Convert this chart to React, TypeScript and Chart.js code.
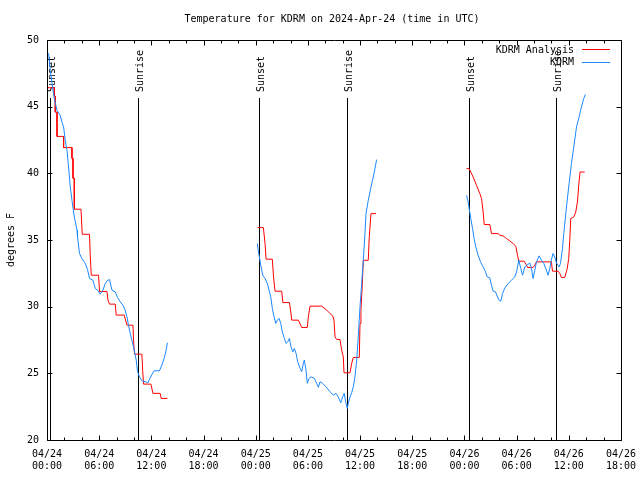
import React, { useEffect, useRef } from "react";
import { Chart, registerables } from "chart.js";

Chart.register(...registerables);

// Hours since 2024-04-24 00:00 UTC; null marks a gap between segments
const analysisHours = [
  0.11, 0.84, 0.84, 0.95, 0.95, 1.15, 1.15, 1.91, 1.91, 2.87, 2.87, 2.99, 2.99, 3.14, 3.14, 3.91, 4.05, 4.89, 4.97, 5.09, 5.93, 6.04, 6.89, 7.01, 7.19, 7.85, 7.96, 8.88, 9.19, 9.88, 9.95, 10.06, 10.91, 11.0, 11.1, 11.95, 12.18, 13.01, 13.13, 13.85,
  null,
  24.19, 24.88, 25.07, 25.19, 25.91, 26.03, 26.22, 26.99, 27.12, 27.87, 28.03, 28.14, 28.9, 29.29, 29.93, 30.05, 30.24, 31.59, 32.16, 32.54, 32.85, 33.0, 33.12, 33.31, 33.69, 33.88, 34.07, 34.15, 34.84, 35.03, 35.22, 35.91, 35.99, 36.1, 36.25, 36.37, 36.94, 37.05, 37.25, 37.82,
  null,
  48.24, 48.54, 49.0, 49.39, 49.77, 49.97, 50.15, 50.27, 50.92, 51.11, 51.87, 52.07, 52.45, 52.84, 53.22, 53.6, 53.91, 54.1, 54.25, 54.86, 55.13, 55.25, 55.89, 56.09, 56.28, 58.0, 58.12, 58.76, 58.96, 59.15, 59.53, 59.8, 59.99, 60.11, 60.22, 60.57, 60.8, 60.99, 61.14, 61.29, 61.83,
];
const analysisTemps = [
  46.42, 46.42, 45.79, 45.79, 44.59, 44.59, 42.77, 42.77, 41.93, 41.93, 41.12, 41.12, 39.63, 39.63, 37.31, 37.31, 35.43, 35.43, 33.86, 32.36, 32.36, 31.14, 31.14, 30.49, 30.19, 30.19, 29.37, 29.37, 28.61, 28.61, 27.49, 26.44, 26.44, 25.24, 24.19, 24.19, 23.5, 23.5, 23.12, 23.12,
  null,
  35.93, 35.93, 34.73, 33.56, 33.56, 32.36, 31.16, 31.16, 30.31, 30.31, 29.61, 28.99, 28.99, 28.44, 28.44, 29.24, 30.04, 30.04, 29.74, 29.49, 29.31, 28.99, 27.74, 27.54, 27.54, 26.74, 26.24, 25.04, 25.04, 25.74, 26.19, 26.19, 28.74, 29.74, 31.61, 33.48, 33.48, 35.18, 36.98, 36.98,
  null,
  40.35, 40.35, 39.72, 39.1, 38.48, 38.1, 37.1, 36.16, 36.16, 35.48, 35.48, 35.36, 35.3, 35.11, 34.93, 34.73, 34.53, 33.86, 33.41, 33.41, 33.11, 32.94, 32.94, 33.11, 33.36, 33.36, 32.66, 32.66, 32.49, 32.19, 32.19, 32.81, 33.61, 34.98, 36.61, 36.73, 37.1, 37.85, 39.1, 40.1, 40.1,
];

const obsHours = [
  0.18, 0.38, 0.64, 0.84, 1.15, 1.53, 1.72, 1.91, 2.1, 2.3, 2.48, 2.68, 2.87, 3.14, 3.45, 3.51, 3.74, 4.02, 4.4, 4.66, 4.89, 5.28, 5.55, 5.81, 6.12, 6.43, 6.7, 6.89, 7.19, 7.47, 7.85, 8.11, 8.42, 8.73, 8.99, 9.19, 9.37, 9.57, 9.76, 10.03, 10.26, 10.41, 10.64, 10.91, 11.29, 11.6, 11.79, 12.06, 12.32, 12.93, 13.21, 13.47, 13.7, 13.85,
  null,
  24.19, 24.31, 24.42, 24.58, 24.81, 25.07, 25.34, 25.53, 25.73, 25.91, 26.11, 26.3, 26.49, 26.68, 26.88, 27.06, 27.29, 27.49, 27.68, 27.87, 28.06, 28.26, 28.44, 28.64, 28.83, 29.1, 29.29, 29.47, 29.59, 29.78, 29.93, 30.13, 30.36, 30.74, 31.01, 31.2, 31.39, 31.7, 32.08, 32.54, 32.92, 33.23, 33.49, 33.77, 34.0, 34.18, 34.34, 34.53, 34.64, 34.84, 35.03, 35.22, 35.41, 35.61, 35.79, 35.99, 36.18, 36.37, 36.56, 36.68, 36.94, 37.25, 37.51, 37.71, 37.9,
  null,
  48.24, 48.43, 48.54, 48.73, 48.93, 49.11, 49.31, 49.57, 49.85, 50.15, 50.43, 50.61, 50.92, 51.11, 51.3, 51.57, 51.8, 51.99, 52.18, 52.38, 52.64, 53.02, 53.41, 53.79, 53.99, 54.25, 54.48, 54.68, 54.94, 55.52, 55.71, 55.89, 56.09, 56.28, 56.58, 56.86, 57.12, 57.35, 57.62, 57.81, 58.01, 58.19, 58.38, 58.58, 58.88, 59.04, 59.27, 59.42, 59.73, 60.03, 60.3, 60.57, 60.88, 61.18, 61.45, 61.71, 61.91,
];
const obsTemps = [
  49.01, 47.72, 46.46, 45.6, 44.72, 44.34, 43.84, 43.47, 42.47, 41.72, 40.47, 38.97, 37.98, 36.73, 35.73, 35.23, 33.98, 33.61, 33.24, 32.79, 32.11, 31.99, 31.36, 31.24, 30.94, 31.24, 31.74, 31.93, 32.04, 31.24, 31.11, 30.69, 30.36, 30.11, 29.74, 29.24, 28.61, 27.99, 27.49, 26.74, 25.99, 25.12, 24.74, 24.44, 24.37, 24.29, 24.55, 24.92, 25.19, 25.19, 25.62, 26.12, 26.74, 27.29,
  null,
  34.73, 34.1, 33.73, 33.11, 32.36, 32.11, 31.74, 31.24, 30.73, 29.87, 29.24, 28.74, 28.99, 29.12, 28.74, 28.11, 27.62, 27.24, 27.36, 27.62, 26.99, 26.61, 26.87, 26.49, 25.87, 25.37, 25.12, 25.75, 25.99, 25.24, 24.25, 24.62, 24.74, 24.62, 24.25, 23.95, 24.37, 24.25, 23.99, 23.62, 23.37, 23.5, 23.24, 22.79, 23.24, 23.5, 22.87, 22.37, 22.75, 23.24, 23.54, 23.99, 24.74, 25.99, 27.74, 29.99, 31.74, 33.48, 35.48, 36.98, 37.98, 38.97, 39.72, 40.35, 41.03,
  null,
  38.35, 37.85, 37.36, 36.61, 35.86, 35.11, 34.48, 33.86, 33.36, 32.98, 32.61, 32.23, 32.16, 31.61, 31.16, 31.11, 30.73, 30.49, 30.41, 30.99, 31.39, 31.74, 31.99, 32.23, 32.61, 33.48, 32.86, 32.36, 32.98, 33.28, 32.86, 32.11, 32.73, 33.36, 33.81, 33.48, 33.24, 32.86, 32.36, 32.86, 33.54, 33.99, 33.73, 33.28, 32.98, 33.24, 34.36, 35.48, 37.48, 39.23, 40.73, 41.97, 43.47, 44.22, 44.97, 45.6, 45.92,
];

const sunsetHours = [0.38, 24.42, 48.54];
const sunriseHours = [10.52, 34.53, 58.53];
const dayLabels = ["04/24", "04/25", "04/26", "04/27"];

const titleText = "Temperature for KDRM on 2024-Apr-24 (time in UTC)";
const yAxisLabel = "degrees F";
const seriesNames = ["KDRM Analysis", "KDRM"];
const seriesColors = ["#ff0000", "#1a88ff"];

const FONT = '10px "DejaVu Sans Mono", monospace';

function toPoints(hs: (number | null)[], ts: (number | null)[]) {
  return hs.map((h, i) => ({ x: h === null ? NaN : h, y: ts[i] }));
}

const decorPlugin = {
  id: "decor",
  beforeDatasetsDraw(chart: any) {
    const ctx = chart.ctx;
    const xs = chart.scales.x;
    const area = chart.chartArea;
    ctx.save();
    ctx.strokeStyle = "#000";
    ctx.lineWidth = 1;
    const drawSun = (h: number, label: string) => {
      const px = Math.round(xs.getPixelForValue(h)) + 0.5;
      ctx.beginPath();
      ctx.moveTo(px, 98);
      ctx.lineTo(px, area.bottom);
      ctx.stroke();
      ctx.save();
      ctx.translate(px + 1.5, 92);
      ctx.rotate(-Math.PI / 2);
      ctx.font = FONT;
      ctx.fillStyle = "#000";
      ctx.textAlign = "left";
      ctx.textBaseline = "middle";
      ctx.fillText(label, 0, 0);
      ctx.restore();
    };
    sunsetHours.forEach((h) => drawSun(h, "Sunset"));
    sunriseHours.forEach((h) => drawSun(h, "Sunrise"));
    ctx.restore();
  },
  afterDraw(chart: any) {
    const ctx = chart.ctx;
    const xs = chart.scales.x;
    const ys = chart.scales.y;
    const a = chart.chartArea;
    ctx.save();
    ctx.strokeStyle = "#000";
    ctx.lineWidth = 1;
    const L = Math.round(a.left) + 0.5;
    const R = Math.round(a.right) + 0.5;
    const T = Math.round(a.top) + 0.5;
    const B = Math.round(a.bottom) + 0.5;
    ctx.beginPath();
    ctx.rect(L, T, R - L, B - T);
    ctx.stroke();
    ctx.beginPath();
    for (let h = 0; h <= 66; h += 2) {
      const px = Math.round(xs.getPixelForValue(h)) + 0.5;
      const len = h % 6 === 0 ? 5 : 3;
      ctx.moveTo(px, B);
      ctx.lineTo(px, B - len);
      ctx.moveTo(px, T);
      ctx.lineTo(px, T + len);
    }
    for (let v = 20; v <= 50; v += 5) {
      const py = Math.round(ys.getPixelForValue(v)) + 0.5;
      ctx.moveTo(L, py);
      ctx.lineTo(L + 5, py);
      ctx.moveTo(R, py);
      ctx.lineTo(R - 5, py);
    }
    ctx.stroke();

    ctx.fillStyle = "#000";
    ctx.font = FONT;
    ctx.textAlign = "center";
    ctx.textBaseline = "middle";
    ctx.fillText(titleText, 332, 19);
    ctx.save();
    ctx.translate(11, 240);
    ctx.rotate(-Math.PI / 2);
    ctx.fillText(yAxisLabel, 0, 0);
    ctx.restore();
    const rows = [50, 62.5];
    seriesNames.forEach((name, i) => {
      ctx.textAlign = "right";
      ctx.fillStyle = "#000";
      ctx.fillText(name, 574, rows[i]);
      ctx.strokeStyle = seriesColors[i];
      ctx.beginPath();
      const ly = Math.round(rows[i]) - 0.5;
      ctx.moveTo(582, ly);
      ctx.lineTo(610, ly);
      ctx.stroke();
    });
    ctx.restore();
  },
};

export default function App() {
  const ref = useRef<HTMLCanvasElement | null>(null);
  useEffect(() => {
    if (!ref.current) return;
    const chart = new Chart(ref.current, {
      type: "line",
      data: {
        datasets: [
          {
            label: seriesNames[1],
            data: toPoints(obsHours, obsTemps),
            borderColor: seriesColors[1],
            borderWidth: 1,
            pointRadius: 0,
            tension: 0,
            spanGaps: false,
          },
          {
            label: seriesNames[0],
            data: toPoints(analysisHours, analysisTemps),
            borderColor: seriesColors[0],
            borderWidth: 1,
            pointRadius: 0,
            tension: 0,
            spanGaps: false,
          },
        ],
      },
      options: {
        animation: false,
        responsive: false,
        devicePixelRatio: 1,
        parsing: false as any,
        layout: { padding: { left: 0, right: 19, top: 40, bottom: 0 } },
        plugins: {
          legend: { display: false },
          title: { display: false },
          tooltip: { enabled: false },
        },
        scales: {
          x: {
            type: "linear",
            min: 0,
            max: 66,
            grid: { display: false, drawTicks: false },
            border: { display: false },
            afterFit: (s: any) => {
              s.height = 40;
              s.paddingLeft = 0;
              s.paddingRight = 0;
            },
            ticks: {
              stepSize: 6,
              autoSkip: false,
              maxRotation: 0,
              padding: 9,
              color: "#000",
              font: { family: '"DejaVu Sans Mono", monospace', size: 10, lineHeight: 1.15 },
              callback: (v: any) => {
                const h = Number(v);
                const d = Math.floor(h / 24);
                const hh = h - d * 24;
                return [dayLabels[d], String(hh).padStart(2, "0") + ":00"];
              },
            },
          },
          y: {
            type: "linear",
            min: 20,
            max: 50,
            grid: { display: false, drawTicks: false },
            border: { display: false },
            afterFit: (s: any) => {
              s.width = 47;
              s.paddingTop = 0;
              s.paddingBottom = 0;
            },
            ticks: {
              stepSize: 5,
              padding: 8,
              color: "#000",
              font: { family: '"DejaVu Sans Mono", monospace', size: 10 },
            },
          },
        },
      },
      plugins: [decorPlugin],
    });
    return () => chart.destroy();
  }, []);
  return (
    <div style={{ position: "fixed", left: 0, top: 0, width: 640, height: 480, background: "#fff" }}>
      <canvas ref={ref} width={640} height={480} />
    </div>
  );
}
